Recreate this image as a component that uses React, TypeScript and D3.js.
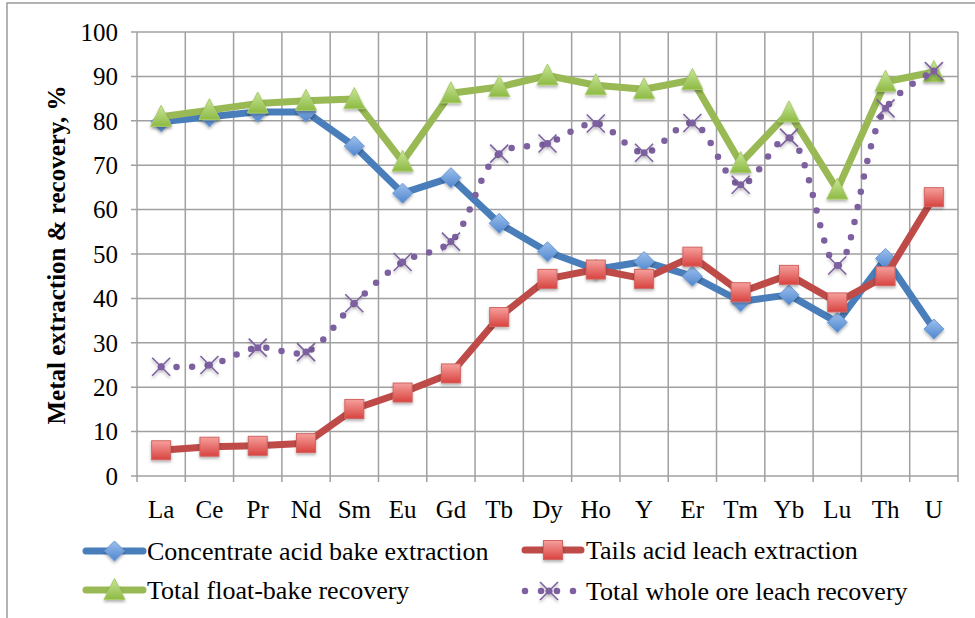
import React from "react";
import * as d3 from "d3";

const categories = ["La", "Ce", "Pr", "Nd", "Sm", "Eu", "Gd", "Tb", "Dy", "Ho", "Y", "Er", "Tm", "Yb", "Lu", "Th", "U"];
const concentrateAcidBake = [79.8, 80.9, 82.0, 82.0, 74.3, 63.7, 67.2, 56.9, 50.5, 46.5, 48.3, 45.0, 39.3, 40.8, 34.6, 49.0, 33.1];
const tailsAcidLeach = [5.8, 6.6, 6.8, 7.4, 15.1, 18.8, 23.1, 35.8, 44.4, 46.5, 44.4, 49.4, 41.4, 45.3, 39.1, 45.0, 62.8];
const totalFloatBake = [80.9, 82.4, 83.9, 84.5, 84.9, 70.8, 86.2, 87.6, 90.2, 88.0, 87.1, 89.2, 70.5, 81.9, 64.5, 88.8, 91.0];
const totalWholeOre = [24.6, 25.0, 28.9, 27.9, 38.9, 48.2, 52.8, 72.6, 74.9, 79.4, 72.8, 79.5, 65.6, 76.2, 47.4, 82.8, 91.2];
const yTicks = [0, 10, 20, 30, 40, 50, 60, 70, 80, 90, 100];

const FONT = "Liberation Serif, DejaVu Serif, serif";
const BLUE = "#4A7EBB";
const RED = "#BE4B48";
const GREEN = "#98B954";
const PURPLE = "#7D60A0";
const GRID = "#A0A0A0";

const W = 975;
const H = 618;
const plot = { left: 137, right: 958, top: 32, bottom: 476 };

function Diamond({ x, y }: { x: number; y: number }) {
  const s = 10;
  return (
    <path
      d={`M${x},${y - s}L${x + s},${y}L${x},${y + s}L${x - s},${y}Z`}
      fill="url(#gBlue)"
      stroke="#6A9AD6"
      strokeWidth={1}
      filter="url(#shadow)"
    />
  );
}
function Square({ x, y }: { x: number; y: number }) {
  const s = 9.5;
  return (
    <rect x={x - s} y={y - s} width={2 * s} height={2 * s} fill="url(#gRed)" stroke="#D06562" strokeWidth={1} filter="url(#shadow)" />
  );
}
function Triangle({ x, y }: { x: number; y: number }) {
  const s = 10.5;
  return (
    <path
      d={`M${x},${y - s - 1}L${x + s},${y + s - 1}L${x - s},${y + s - 1}Z`}
      fill="url(#gGreen)"
      stroke="#A9CB6A"
      strokeWidth={1}
      filter="url(#shadow)"
    />
  );
}
function Cross({ x, y }: { x: number; y: number }) {
  const s = 9;
  return (
    <g stroke={PURPLE} strokeWidth={1.6} filter="url(#shadow)">
      <line x1={x - s} y1={y - s} x2={x + s} y2={y + s} />
      <line x1={x - s} y1={y + s} x2={x + s} y2={y - s} />
      <circle cx={x} cy={y} r={3.5} fill={PURPLE} stroke="none" />
    </g>
  );
}

export default function App() {
  const x = d3.scaleBand<string>().domain(categories).range([plot.left, plot.right]).padding(0);
  const y = d3.scaleLinear().domain([0, 100]).range([plot.bottom, plot.top]);
  const cx = (c: string) => (x(c) as number) + x.bandwidth() / 2;

  const straight = d3
    .line<number>()
    .x((_, i) => cx(categories[i]))
    .y((d) => y(d));
  const smooth = d3
    .line<number>()
    .x((_, i) => cx(categories[i]))
    .y((d) => y(d))
    .curve(d3.curveCatmullRom.alpha(0.5));

  const boundaries = categories.map((c) => x(c) as number).concat([plot.right]);
  const textStyle = { fontFamily: FONT };

  return (
    <svg width={W} height={H} style={{ position: "absolute", left: 0, top: 0, background: "#fff" }}>
      <defs>
        <linearGradient id="gBlue" x1="0" y1="0" x2="0" y2="1">
          <stop offset="0" stopColor="#9DC0EC" />
          <stop offset="1" stopColor="#4F86CE" />
        </linearGradient>
        <linearGradient id="gRed" x1="0" y1="0" x2="0" y2="1">
          <stop offset="0" stopColor="#F5A09D" />
          <stop offset="1" stopColor="#D9433F" />
        </linearGradient>
        <linearGradient id="gGreen" x1="0" y1="0" x2="0" y2="1">
          <stop offset="0" stopColor="#C9E69A" />
          <stop offset="1" stopColor="#8DBA43" />
        </linearGradient>
        <filter id="shadow" x="-50%" y="-50%" width="200%" height="200%">
          <feDropShadow dx="0" dy="2" stdDeviation="1.5" floodColor="#000" floodOpacity="0.3" />
        </filter>
      </defs>

      {/* outer frame */}
      <rect x={7} y={3} width={W + 10} height={H + 10} fill="none" stroke="#9A9A9A" strokeWidth={1.5} />

      {/* horizontal grid */}
      {yTicks.map((t) => (
        <line key={"h" + t} x1={plot.left - 6} x2={plot.right} y1={y(t)} y2={y(t)} stroke={GRID} strokeWidth={1.5} />
      ))}
      {/* vertical grid + ticks */}
      {boundaries.map((b, i) => (
        <line key={"v" + i} x1={b} x2={b} y1={plot.top} y2={plot.bottom + 6} stroke={GRID} strokeWidth={1.5} />
      ))}

      {/* y tick labels */}
      {yTicks.map((t) => (
        <text key={"yl" + t} x={118} y={y(t)} dy="0.35em" textAnchor="end" style={textStyle} fontSize={25} fill="#000">
          {t}
        </text>
      ))}
      {/* x tick labels */}
      {categories.map((c) => (
        <text key={"xl" + c} x={cx(c)} y={518} textAnchor="middle" style={textStyle} fontSize={25} fill="#000">
          {c}
        </text>
      ))}
      {/* y title */}
      <text
        transform={`translate(65, 255) rotate(-90)`}
        textAnchor="middle"
        style={textStyle}
        fontSize={25}
        fontWeight="bold"
        fill="#000"
      >
        Metal extraction &amp; recovery, %
      </text>

      {/* series */}
      <path d={straight(concentrateAcidBake) || ""} fill="none" stroke={BLUE} strokeWidth={7} strokeLinejoin="round" />
      {concentrateAcidBake.map((v, i) => (
        <Diamond key={"b" + i} x={cx(categories[i])} y={y(v)} />
      ))}
      <path d={straight(tailsAcidLeach) || ""} fill="none" stroke={RED} strokeWidth={7} strokeLinejoin="round" />
      {tailsAcidLeach.map((v, i) => (
        <Square key={"r" + i} x={cx(categories[i])} y={y(v)} />
      ))}
      <path d={straight(totalFloatBake) || ""} fill="none" stroke={GREEN} strokeWidth={7} strokeLinejoin="round" />
      {totalFloatBake.map((v, i) => (
        <Triangle key={"g" + i} x={cx(categories[i])} y={y(v)} />
      ))}
      <path
        d={smooth(totalWholeOre) || ""}
        fill="none"
        stroke={PURPLE}
        strokeWidth={6.5}
        strokeLinecap="round"
        strokeDasharray="0 15.5"
      />
      {totalWholeOre.map((v, i) => (
        <Cross key={"p" + i} x={cx(categories[i])} y={y(v)} />
      ))}

      {/* legend */}
      <g style={textStyle} fontSize={26} fill="#000">
        <line x1={86} x2={143} y1={551} y2={551} stroke={BLUE} strokeWidth={7} strokeLinecap="round" />
        <Diamond x={114.5} y={551} />
        <text x={147} y={551} dy="0.35em">Concentrate acid bake extraction</text>

        <line x1={525} x2={581} y1={550} y2={550} stroke={RED} strokeWidth={7} strokeLinecap="round" />
        <Square x={553} y={550} />
        <text x={586} y={550} dy="0.35em">Tails acid leach extraction</text>

        <line x1={86} x2={143} y1={590} y2={590} stroke={GREEN} strokeWidth={7} strokeLinecap="round" />
        <Triangle x={114.5} y={590} />
        <text x={147} y={590} dy="0.35em">Total float-bake recovery</text>

        <line x1={525} x2={580} y1={591} y2={591} stroke={PURPLE} strokeWidth={6.5} strokeLinecap="round" strokeDasharray="0 16" />
        <Cross x={549} y={591} />
        <text x={586} y={591} dy="0.35em">Total whole ore leach recovery</text>
      </g>
    </svg>
  );
}
